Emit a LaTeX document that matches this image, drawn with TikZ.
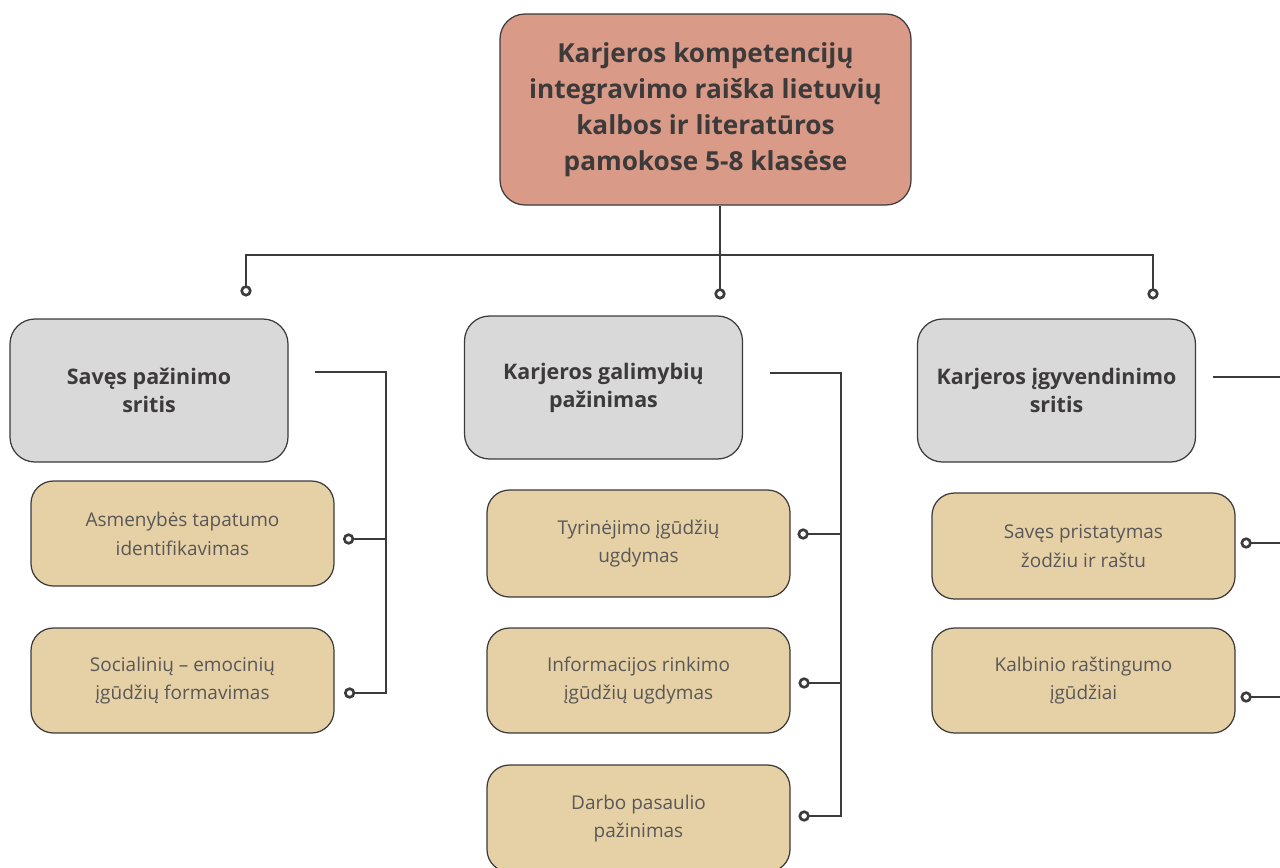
\documentclass[tikz,border=0pt]{standalone}
\usepackage{fontspec}
\setmainfont{Open Sans}
\usetikzlibrary{arrows.meta,calc,positioning}
\definecolor{salmon}{HTML}{D99A87}
\definecolor{greybox}{HTML}{D9D9D9}
\definecolor{tanbox}{HTML}{E6D1A6}
\definecolor{ink}{HTML}{3C3A3A}
\tikzset{
  ring/.tip = {Circle[open, length=6.4pt]},
  scheme/.style = {
    % Blokai
    box/.style   = {draw=ink, line width=0.7pt, rounded corners=0.5cm,
                    align=center, text=ink, inner sep=2pt},
    head/.style  = {box, fill=salmon,
                    font=\bfseries\fontsize{14.9}{20.4}\selectfont},
    area/.style  = {box, fill=greybox,
                    font=\bfseries\fontsize{12.2}{16}\selectfont},
    skill/.style = {box, fill=tanbox, rounded corners=0.45cm, text=ink!85,
                    font=\fontsize{10.8}{16.4}\selectfont},
    % Linijos
    bar/.style   = {line width=1.5pt, draw=ink},
    link/.style  = {bar, -ring},
  }
}
\begin{document}
\begin{tikzpicture}[scheme]
\def\blk#1(#2)<#3,#4>[#5] at (#6);{
  \node[#1, minimum width=#3, minimum height=#4] (#2) at (#6) {#5};
}
\useasboundingbox (0,0) rectangle (25.6,-17.34);

\blk head(top)<8.22cm,3.82cm>[Karjeros kompetencijų\\integravimo raiška lietuvių\\kalbos ir literatūros\\pamokose 5-8 klasėse] at (14.11,-2.19);

\blk area(gL)<5.56cm,2.86cm>[Savęs pažinimo\\sritis]        at ( 2.98,-7.81);
\blk area(gM)<5.56cm,2.86cm>[Karjeros galimybių\\pažinimas]  at (12.07,-7.75);
\blk area(gR)<5.56cm,2.86cm>[Karjeros įgyvendinimo\\sritis]  at (21.13,-7.81);

\blk skill(tL1)<6.06cm,2.10cm>[Asmenybės tapatumo\\identifikavimas]     at ( 3.65,-10.67);
\blk skill(tL2)<6.06cm,2.10cm>[Socialinių – emocinių\\įgūdžių formavimas] at ( 3.65,-13.61);
\blk skill(tM1)<6.06cm,2.14cm>[Tyrinėjimo įgūdžių\\ugdymas]            at (12.77,-10.87);
\blk skill(tM2)<6.06cm,2.10cm>[Informacijos rinkimo\\įgūdžių ugdymas]   at (12.77,-13.61);
\blk skill(tM3)<6.06cm,2.14cm>[Darbo pasaulio\\pažinimas]              at (12.77,-16.37);
\blk skill(tR1)<6.06cm,2.12cm>[Savęs pristatymas\\žodžiu ir raštu]      at (21.67,-10.92);
\blk skill(tR2)<6.06cm,2.10cm>[Kalbinio raštingumo\\įgūdžiai]           at (21.67,-13.61);

%---------------------------------------------
% medis nuo antraštės
\coordinate (hub) at (14.40,-5.10);
\coordinate (eL)  at ( 4.92,-5.93);
\coordinate (eM)  at (14.40,-5.99);
\coordinate (eR)  at (23.06,-5.99);
\draw[link] (top.south -| hub) -- (eM);
\draw[bar, ring-ring] (eL) -- (eL |- hub) -- (eR |- hub) -- (eR);

% šoniniai laiptai
\coordinate (sL) at ( 6.30,-7.44);  \coordinate (vL) at ( 7.72,0);
\coordinate (aL1) at ( 6.86,-10.78); \coordinate (aL2) at ( 6.88,-13.86);
\coordinate (sM) at (15.40,-7.46);  \coordinate (vM) at (16.82,0);
\coordinate (aM1) at (15.95,-10.68); \coordinate (aM2) at (15.97,-13.66);
\coordinate (aM3) at (15.97,-16.32);
\coordinate (sR) at (24.26,-7.54);  \coordinate (vR) at (26.00,0);
\coordinate (aR1) at (24.81,-10.86); \coordinate (aR2) at (24.81,-13.94);

\draw[link] (sL) -- (sL -| vL) |- (aL2);
\draw[link] (aL1 -| vL) -- (aL1);
\draw[link] (sM) -- (sM -| vM) |- (aM3);
\foreach \e in {aM1,aM2} \draw[link] (\e -| vM) -- (\e);
\draw[link] (sR) -- (sR -| vR) |- (aR2);
\draw[link] (aR1 -| vR) -- (aR1);

\end{tikzpicture}
\end{document}
